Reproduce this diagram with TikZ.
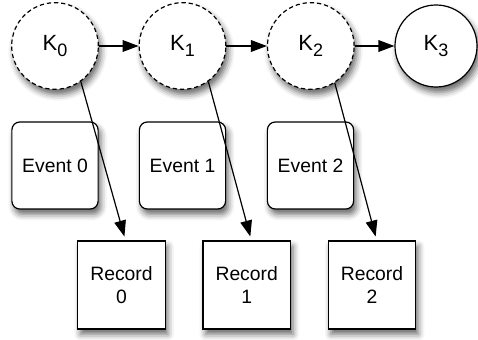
\documentclass[tikz,border=0pt]{standalone}
\usepackage{fontspec}
\setmainfont{Liberation Sans}
\usetikzlibrary{arrows.meta,shadows.blur}
\begin{document}
\begin{tikzpicture}[x=0.75pt,y=-0.75pt,
  shad/.style={blur shadow={shadow xshift=2pt, shadow yshift=-4pt, shadow blur radius=4.5pt, shadow opacity=60}},
  kc/.style={circle, draw, line width=0.9pt, fill=white, minimum size=65pt, inner sep=0pt, shad},
  kd/.style={kc, dash pattern=on 3.2pt off 2.2pt},
  ev/.style={rectangle, rounded corners=6pt, draw, line width=0.9pt, fill=white, minimum width=64.7pt, minimum height=65.3pt, inner sep=0pt, font=\fontsize{14.5}{17.25}\selectfont, shad},
  rec/.style={rectangle, draw, line width=0.9pt, fill=white, minimum width=65.5pt, minimum height=66pt, inner sep=0pt, align=center, font=\fontsize{14.5}{17.25}\selectfont, shad},
  arr/.style={-{Triangle[length=12pt,width=8.8pt]}, line width=0.9pt}]
\useasboundingbox (0,0) rectangle (478,339);
\newcommand{\kl}[1]{\fontsize{16.5}{16.5}\selectfont K\raisebox{-4.5pt}{\fontsize{13.5}{13.5}\selectfont #1}}
\node[kd] (K0) at (55,46) {\kl{0}};
\node[kd] (K1) at (182.5,46) {\kl{1}};
\node[kd] (K2) at (310.8,46) {\kl{2}};
\node[kc, minimum size=61.5pt] (K3) at (436,46) {\kl{3}};
\node[ev] (E0) at (55,165.5) {Event 0};
\node[ev] (E1) at (182.5,165.5) {Event 1};
\node[ev] (E2) at (310.5,165.5) {Event 2};
\node[rec] (R0) at (121.5,285) {Record\\0};
\node[rec] (R1) at (246.7,285) {Record\\1};
\node[rec] (R2) at (372,285) {Record\\2};
\draw[arr] (K0) -- (K1);
\draw[arr] (K1) -- (K2);
\draw[arr] (K2) -- (K3);
\draw[arr, shorten >=3pt] (K0.-54) -- ([xshift=3pt]R0.north);
\draw[arr, shorten >=3pt] (K1.-54) -- ([xshift=3.5pt]R1.north);
\draw[arr, shorten >=3pt] (K2.-57) -- ([xshift=3.5pt]R2.north);
\end{tikzpicture}
\end{document}
